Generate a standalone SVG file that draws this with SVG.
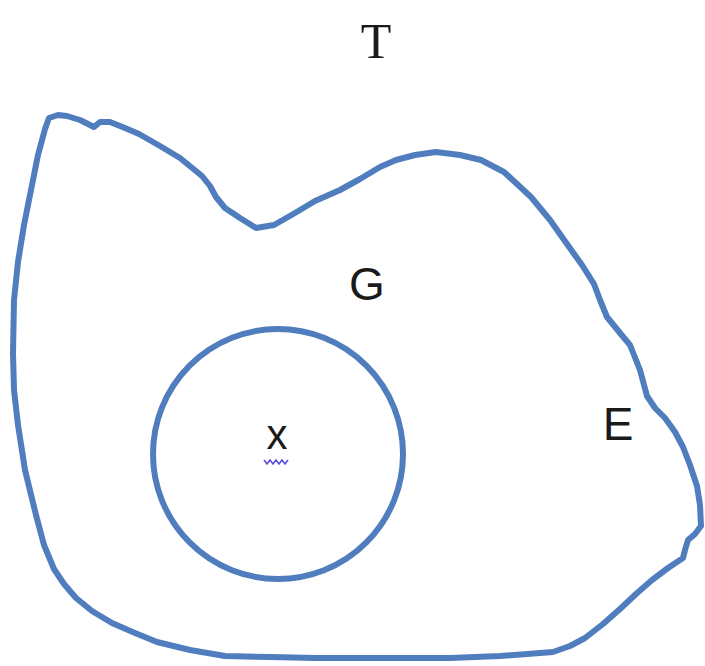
<svg xmlns="http://www.w3.org/2000/svg" width="705" height="666" viewBox="0 0 705 666">
<style>
.ln{fill:none;stroke:#4f7dbd;stroke-width:6;stroke-linejoin:round;stroke-linecap:round}
.lb{font-family:"Liberation Sans",Arial,sans-serif;font-size:46px;fill:#1a1a1a}
</style>
<rect width="705" height="666" fill="#ffffff"/>
<g id="T"><text x="376" y="58" text-anchor="middle" style="font-family:'Liberation Serif','Times New Roman',serif;font-size:50px;fill:#1a1a1a">T</text></g>
<g id="G-region">
<path class="ln" d="M49,118 L58,115 L67,116 L80,120 L94,127 L100,122 L110,122 L125,128 L139,134 L160,146 L180,158 L202,176 L210,186 L216,197 L225,208 L240,218 L256,228 L274,225 L295,213 L315,201 L340,190 L360,179 L380,167 L396,160 L415,155 L436,152 L460,155 L481,160 L504,172 L531,197 L550,220 L567,244 L582,265 L594,284 L600,300 L607,317 L620,333 L630,345 L640,370 L647,396 L655,408 L665,418 L675,432 L683,447 L690,465 L697,486 L700,505 L701,526 L695,534 L688,540 L685,550 L683,558 L668,568 L652,580 L636,594 L620,609 L603,624 L585,638 L570,646 L553,652 L500,656 L450,658 L380,658 L315,658 L270,657 L225,656 L190,650 L157,642 L135,633 L112,623 L92,611 L76,598 L64,584 L54,569 L44,545 L36,515 L25,470 L18,425 L14,390 L13,353 L14,300 L18,262 L24,225 L31,190 L38,155 L45,129 Z"/>
<text class="lb" x="367" y="300" text-anchor="middle">G</text>
<text class="lb" x="618" y="440" text-anchor="middle">E</text>
</g>
<g id="x-circle">
<circle class="ln" cx="278" cy="454" r="125"/>
<text class="lb" x="277" y="449" text-anchor="middle" style="font-size:42px">x</text>
<path d="M264,460 l3,4 l3,-4 l3,4 l3,-4 l3,4 l3,-4 l3,4 l3,-4" fill="none" stroke="#5a4fe0" stroke-width="1.6"/>
</g>
</svg>
